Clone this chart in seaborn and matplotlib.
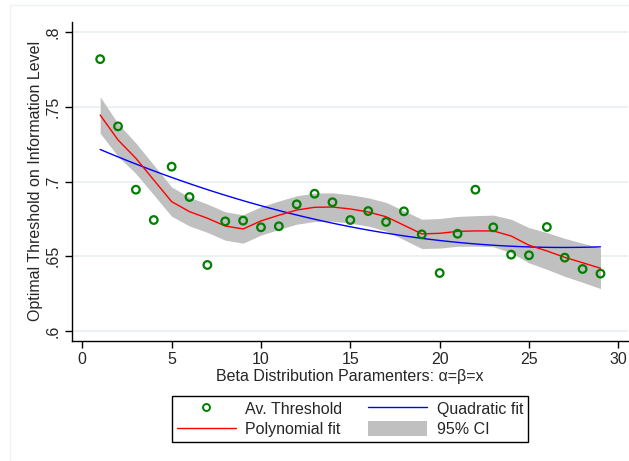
import numpy as np
import pandas as pd
import matplotlib
matplotlib.use("Agg")
import matplotlib.pyplot as plt
import seaborn as sns
from matplotlib.lines import Line2D
from matplotlib.patches import Patch, Rectangle

# Average optimal threshold for each beta parameter value
beta_x = list(range(1, 30))
av_threshold = [0.782, 0.737, 0.6946, 0.6743, 0.710, 0.6897, 0.6442, 0.6734, 0.6739, 0.6694,
                0.6701, 0.6848, 0.6919, 0.6862, 0.6743, 0.6803, 0.6730, 0.6801, 0.6647, 0.6388,
                0.6651, 0.6946, 0.6694, 0.6511, 0.6507, 0.6696, 0.6491, 0.6415, 0.6384]

# Local polynomial smooth and its 95% CI
poly_fit = [0.7446, 0.7279, 0.7156, 0.7011, 0.6866, 0.6799, 0.6755, 0.6703, 0.6683, 0.6737,
            0.6775, 0.6810, 0.6828, 0.6830, 0.6817, 0.6797, 0.6765, 0.6708, 0.6650, 0.6654,
            0.6667, 0.6670, 0.6670, 0.6636, 0.6574, 0.6536, 0.6493, 0.6457, 0.6420]
ci_half = [0.0122, 0.0110, 0.0102, 0.0100, 0.0098, 0.0096, 0.0095, 0.0095, 0.0095, 0.0095,
           0.0095, 0.0095, 0.0095, 0.0095, 0.0095, 0.0095, 0.0096, 0.0097, 0.0098, 0.0099,
           0.0100, 0.0102, 0.0106, 0.0112, 0.0118, 0.0123, 0.0127, 0.0131, 0.0136]

yticks = [0.6, 0.65, 0.7, 0.75, 0.8]
ytick_labels = [".6", ".65", ".7", ".75", ".8"]
xticks = [0, 5, 10, 15, 20, 25, 30]

df = pd.DataFrame({"x": beta_x, "thr": av_threshold, "poly": poly_fit})
ci_lo = np.array(poly_fit) - np.array(ci_half)
ci_hi = np.array(poly_fit) + np.array(ci_half)

sns.set_style("white")
plt.rcParams["font.family"] = ["Liberation Sans", "DejaVu Sans"]
fs = 11.5

fig = plt.figure(figsize=(6.29, 4.61), dpi=100)
ax = fig.add_axes([72 / 629, 1 - 341 / 461, 556 / 629, 319.2 / 461])

# faint outer graph-region border
fig.patches.append(Rectangle((10 / 629, -0.05), 1.2, 1.05 - 5 / 461, transform=fig.transFigure,
                             fill=False, edgecolor="#eef2f4", linewidth=1, zorder=0))

for t in yticks:
    ax.axhline(t, color="#e8eff0", linewidth=1.2, zorder=0)

ax.fill_between(beta_x, ci_lo, ci_hi, color="#c0c0c0", linewidth=0, zorder=1)
sns.regplot(data=df, x="x", y="thr", order=2, ci=None, scatter=False, ax=ax,
            line_kws={"color": "#0000ff", "linewidth": 1.0, "zorder": 2})
sns.lineplot(data=df, x="x", y="poly", ax=ax, color="#ff0000", linewidth=1.0, zorder=3)
sns.scatterplot(data=df, x="x", y="thr", ax=ax, marker="o", s=30, facecolor="none",
                edgecolor="#008000", linewidth=1.6, zorder=4)

ax.set_xlim(-0.576, 30.54)
ax.set_ylim(0.5933, 0.807)
ax.set_xticks(xticks)
ax.set_xticklabels([str(t) for t in xticks], fontsize=fs)
ax.set_yticks(yticks)
ax.set_yticklabels(ytick_labels, fontsize=fs, rotation=90, va="center")
ax.tick_params(axis="both", direction="out", length=5, width=1, color="black", pad=3, left=True, bottom=True)
for s in ["top", "right"]:
    ax.spines[s].set_visible(False)
for s in ["left", "bottom"]:
    ax.spines[s].set_color("black")
    ax.spines[s].set_linewidth(1)
ax.set_xlabel("Beta Distribution Paramenters: α=β=x", fontsize=fs, labelpad=1)
ax.set_ylabel("Optimal Threshold on Information Level", fontsize=fs, labelpad=2)

handles = [
    Line2D([], [], marker="o", linestyle="none", markersize=5, markerfacecolor="none",
           markeredgecolor="#008000", markeredgewidth=1.4),
    Line2D([], [], color="#ff0000", linewidth=1.0),
    Line2D([], [], color="#0000ff", linewidth=1.0),
    Patch(facecolor="#c0c0c0", edgecolor="none"),
]
labels = ["Av. Threshold", "Polynomial fit", "Quadratic fit", "95% CI"]
leg = fig.legend(handles, labels, loc="center", bbox_to_anchor=(350 / 629, 1 - 419 / 461), ncol=2,
                 fontsize=fs, frameon=True, fancybox=False, edgecolor="black", framealpha=1,
                 handlelength=3.7, handleheight=1.05, handletextpad=0.6, columnspacing=1.6,
                 labelspacing=0.3, borderpad=0.3)
leg.get_frame().set_linewidth(1)

fig.savefig("out.png", dpi=100)
